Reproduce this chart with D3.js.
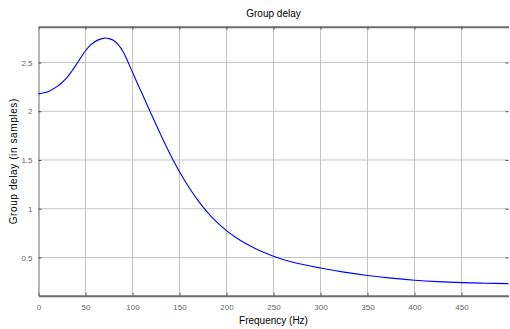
<!DOCTYPE html>
<html>
<head>
<meta charset="utf-8">
<script src="https://cdn.jsdelivr.net/npm/d3@7"></script>
<style>
  body { margin: 0; background: #fff; }
  svg { display: block; }
  .tick-label { font-family: "Liberation Sans", Arial, sans-serif; font-size: 8px; fill: #666; }
  .narrow { font-family: "Liberation Sans Narrow", "Arial Narrow", "Liberation Sans", sans-serif; font-size: 10px; fill: #000; }
</style>
</head>
<body>
<div id="chart"></div>
<script>
// readings
const freqHz = [0, 10, 15, 20, 25, 30, 35, 40, 45, 50, 55, 60, 65, 70, 75, 80, 85, 90, 95, 100,
  105, 110, 120, 130, 140, 150, 160, 170, 180, 190, 200, 210, 220, 230, 240, 250, 260, 275,
  300, 325, 350, 375, 400, 425, 450, 475, 500];
const groupDelay = [2.178, 2.20, 2.225, 2.255, 2.295, 2.343, 2.405, 2.475, 2.55, 2.62, 2.675,
  2.713, 2.737, 2.75, 2.745, 2.725, 2.68, 2.61, 2.51, 2.40, 2.29, 2.185, 1.97, 1.76, 1.56,
  1.38, 1.22, 1.08, 0.96, 0.86, 0.775, 0.705, 0.645, 0.595, 0.55, 0.512, 0.479, 0.44,
  0.392, 0.35, 0.315, 0.288, 0.267, 0.252, 0.242, 0.236, 0.232];
const xTicks = [0, 50, 100, 150, 200, 250, 300, 350, 400, 450];
const yTicks = [0.5, 1, 1.5, 2, 2.5];

const W = 510, H = 329;
const margin = {top: 26.7, right: 1.5, bottom: 33.3, left: 38.5};
const innerW = W - margin.left - margin.right;
const innerH = H - margin.top - margin.bottom;

const svg = d3.select("#chart").append("svg")
  .attr("width", W)
  .attr("height", H);

const x = d3.scaleLinear().domain([0, 500]).range([margin.left, margin.left + innerW]);
const y = d3.scaleLinear().domain([0.108, 2.867]).range([margin.top + innerH, margin.top]);

// grid
svg.append("g")
  .selectAll("line")
  .data(xTicks.slice(1))
  .enter()
  .append("line")
  .attr("x1", d => x(d)).attr("x2", d => x(d))
  .attr("y1", margin.top).attr("y2", margin.top + innerH)
  .attr("stroke", "#c4c4c4")
  .attr("stroke-width", 1);

svg.append("g")
  .selectAll("line")
  .data(yTicks)
  .enter()
  .append("line")
  .attr("x1", margin.left).attr("x2", margin.left + innerW)
  .attr("y1", d => y(d)).attr("y2", d => y(d))
  .attr("stroke", "#c4c4c4")
  .attr("stroke-width", 1);

// axes with inward ticks
const tickLen = 3;
svg.append("g")
  .attr("transform", "translate(0," + (margin.top + innerH) + ")")
  .call(d3.axisBottom(x).tickValues(xTicks).tickSize(-tickLen).tickPadding(9).tickSizeOuter(0))
  .call(g => g.select(".domain").attr("stroke", "#6e6e6e").attr("stroke-width", 2))
  .call(g => g.selectAll(".tick line").attr("stroke", "#555"))
  .call(g => g.selectAll(".tick text").attr("class", "tick-label").attr("font-family", null).attr("font-size", null).attr("fill", null));

svg.append("g")
  .attr("transform", "translate(0," + margin.top + ")")
  .call(d3.axisTop(x).tickValues(xTicks).tickSize(-tickLen).tickFormat("").tickSizeOuter(0))
  .call(g => g.select(".domain").attr("stroke", "#6e6e6e").attr("stroke-width", 2))
  .call(g => g.selectAll(".tick line").attr("stroke", "#555"));

svg.append("g")
  .attr("transform", "translate(" + margin.left + ",0)")
  .call(d3.axisLeft(y).tickValues(yTicks).tickSize(-tickLen).tickPadding(6).tickSizeOuter(0).tickFormat(d3.format("")))
  .call(g => g.select(".domain").attr("stroke", "#6e6e6e").attr("stroke-width", 1))
  .call(g => g.selectAll(".tick line").attr("stroke", "#555"))
  .call(g => g.selectAll(".tick text").attr("class", "tick-label").attr("font-family", null).attr("font-size", null).attr("fill", null));

svg.append("g")
  .attr("transform", "translate(" + (margin.left + innerW) + ",0)")
  .call(d3.axisRight(y).tickValues(yTicks).tickSize(-tickLen).tickFormat("").tickSizeOuter(0))
  .call(g => g.select(".domain").attr("stroke", "none"))
  .call(g => g.selectAll(".tick line").attr("stroke", "#555"));

// curve
const line = d3.line()
  .x((d, i) => x(freqHz[i]))
  .y(d => y(d))
  .curve(d3.curveCatmullRom.alpha(0.5));

svg.append("path")
  .datum(groupDelay)
  .attr("d", line)
  .attr("fill", "none")
  .attr("stroke", "#0000ff")
  .attr("stroke-width", 1.1);

// labels
svg.append("text")
  .attr("class", "narrow")
  .attr("x", margin.left + innerW / 2)
  .attr("y", 17)
  .attr("text-anchor", "middle")
  .text("Group delay");

svg.append("text")
  .attr("class", "narrow")
  .attr("x", margin.left + innerW / 2)
  .attr("y", 324)
  .attr("text-anchor", "middle")
  .text("Frequency (Hz)");

svg.append("text")
  .attr("class", "tick-label")
  .attr("transform", "translate(17," + (margin.top + innerH / 2) + ") rotate(-90)")
  .attr("text-anchor", "middle")
  .style("font-size", "10px")
  .style("letter-spacing", "0.6px")
  .style("fill", "#000")
  .text("Group delay (in samples)");
</script>
</body>
</html>
